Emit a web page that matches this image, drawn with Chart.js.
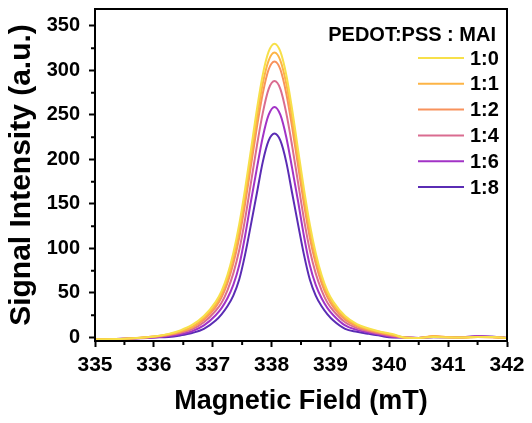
<!DOCTYPE html>
<html><head><meta charset="utf-8">
<script src="https://cdn.jsdelivr.net/npm/chart.js@4.4.0/dist/chart.umd.min.js"></script>
<style>html,body{margin:0;padding:0;background:#fff;}#wrap{width:532px;height:423px;}</style>
</head><body><div id="wrap"><canvas id="c" width="532" height="423"></canvas></div>
<script>
const fieldMT = [335.0, 335.5, 336.0, 336.25, 336.45, 336.65, 336.85, 337.05, 337.15, 337.25, 337.35, 337.45, 337.55, 337.65, 337.75, 337.85, 337.95, 338.05, 338.15, 338.25, 338.35, 338.45, 338.55, 338.65, 338.75, 338.85, 338.95, 339.05, 339.25, 339.45, 339.65, 339.85, 340.05, 340.25, 340.5, 340.75, 341.0, 341.25, 341.5, 341.75, 342.0];
const ratioLabels = ['1:0', '1:1', '1:2', '1:4', '1:6', '1:8'];
const sig_1_0 = [-2, -1.5, 1, 4, 8, 14, 24, 40, 52, 70, 95, 127, 167, 211, 256, 295, 321, 330, 321, 295, 256, 211, 167, 127, 95, 70, 52, 40, 24, 15, 10, 6.5, 4, 0, -0.5, 0.5, 0, 0, 0.5, 0.5, -0.5];
const sig_1_1 = [-2, -1.5, 1, 3.5, 7, 12, 22, 37, 49, 66, 90, 120, 159, 202, 246, 285, 311, 320, 311, 285, 246, 202, 159, 120, 90, 66, 49, 37, 22, 13.5, 9, 6, 3, 0, -0.5, 1.5, 0.3, 0, 0.5, 0.3, -0.5];
const sig_1_2 = [-2, -1.5, 1, 3, 6, 11, 20, 34, 45, 61, 83, 112, 150, 193, 236, 274, 301, 310, 301, 274, 236, 193, 150, 112, 83, 61, 45, 34, 20, 12.5, 8, 5, 2.5, 0, -0.5, 1.2, 0.3, 0, 0.5, 0.3, -0.5];
const sig_1_4 = [-2, -1.5, 0.5, 2.5, 5, 9, 17, 30, 39, 53, 72, 98, 133, 174, 215, 252, 279, 288, 279, 252, 215, 174, 133, 98, 72, 53, 39, 30, 17, 10.5, 7, 4, 1.5, 0, -0.5, 0.8, 0.2, 0, 0.8, 0.5, -0.5];
const sig_1_6 = [-2, -1.5, 0, 1.5, 3.5, 7, 13.5, 25, 33, 44, 59, 81, 114, 153, 190, 225, 250, 259, 250, 225, 190, 153, 114, 81, 59, 44, 33, 25, 13.5, 8.5, 5.5, 3, 0.5, 0, -0.5, 0.5, 0.2, 0.3, 1.5, 0.8, -0.5];
const sig_1_8 = [-2, -1.5, 0, 0.5, 2.3, 5, 9.6, 19, 26, 35, 47, 65, 93, 127, 162, 197, 221, 229, 221, 197, 162, 127, 93, 65, 47, 35, 26, 19, 9.6, 6.4, 4, 1.8, 0, 0, -0.5, 0.3, 0.2, 0.3, 1.2, 0.8, -0.5];
const xTickValues = [335, 336, 337, 338, 339, 340, 341, 342];
const yTickValues = [0, 50, 100, 150, 200, 250, 300, 350];
const xMinorTicks = [335.5, 336.5, 337.5, 338.5, 339.5, 340.5, 341.5];
const yMinorTicks = [25, 75, 125, 175, 225, 275, 325];
const legendTitle = 'PEDOT:PSS : MAI';

const seriesValues = [sig_1_0, sig_1_1, sig_1_2, sig_1_4, sig_1_6, sig_1_8];
const lineColors = ['#F7E04A', '#FDB446', '#F8925C', '#DA6C90', '#A233C6', '#5A2CB4'];
const FONT = "'Liberation Sans', Arial, sans-serif";

const datasets = seriesValues.map((vals, i) => ({
  label: ratioLabels[i],
  data: vals.map((v, j) => ({x: fieldMT[j], y: v})),
  borderColor: lineColors[i],
  backgroundColor: lineColors[i],
  borderWidth: 2,
  pointRadius: 0,
  cubicInterpolationMode: 'monotone',
  fill: false
}));

const framePlugin = {
  id: 'frameMinor',
  afterDraw(chart) {
    const {ctx, chartArea: a, scales: {x, y}} = chart;
    ctx.save();
    ctx.strokeStyle = '#000';
    ctx.lineWidth = 2;
    ctx.beginPath();
    xMinorTicks.forEach(v => { const p = x.getPixelForValue(v); ctx.moveTo(p, a.bottom); ctx.lineTo(p, a.bottom + 4); });
    yMinorTicks.forEach(v => { const p = y.getPixelForValue(v); ctx.moveTo(a.left, p); ctx.lineTo(a.left - 4, p); });
    ctx.stroke();
    ctx.strokeRect(a.left, a.top, a.right - a.left, a.bottom - a.top);
    // legend
    ctx.fillStyle = '#000';
    ctx.font = 'bold 20px ' + FONT;
    ctx.textAlign = 'right';
    ctx.textBaseline = 'middle';
    ctx.fillText(legendTitle, a.right - 11, a.top + 26);
    const rowY0 = a.top + 49, rowStep = 25.8;
    chart.data.datasets.forEach((ds, i) => {
      const yy = rowY0 + i * rowStep;
      ctx.strokeStyle = ds.borderColor;
      ctx.lineWidth = 2;
      ctx.beginPath();
      ctx.moveTo(a.right - 89, yy);
      ctx.lineTo(a.right - 43, yy);
      ctx.stroke();
      ctx.textAlign = 'left';
      ctx.fillText(ds.label, a.right - 37, yy + 1);
    });
    ctx.restore();
  }
};

new Chart(document.getElementById('c'), {
  type: 'line',
  data: {datasets},
  options: {
    responsive: false,
    animation: false,
    layout: {padding: {left: 0, right: 25, top: 9, bottom: 0}},
    plugins: {legend: {display: false}, tooltip: {enabled: false}},
    scales: {
      x: {
        type: 'linear', min: 335, max: 342,
        afterBuildTicks: s => { s.ticks = xTickValues.map(v => ({value: v})); },
        afterFit: s => { s.height = 82; s.paddingLeft = 0; s.paddingRight = 0; },
        ticks: {color: '#000', font: {family: FONT, size: 21, weight: 'bold'}, padding: 6, maxRotation: 0, autoSkip: false},
        grid: {drawOnChartArea: false, drawTicks: true, tickLength: 6, tickWidth: 2, tickColor: '#000'},
        border: {display: true, width: 2, color: '#000'},
        title: {display: true, text: 'Magnetic Field (mT)', color: '#000', font: {family: FONT, size: 27, weight: 'bold'}, padding: {top: 0, bottom: 5}}
      },
      y: {
        type: 'linear', min: -4, max: 369,
        afterBuildTicks: s => { s.ticks = yTickValues.map(v => ({value: v})); },
        afterFit: s => { s.width = 95; s.paddingTop = 0; s.paddingBottom = 0; },
        ticks: {color: '#000', font: {family: FONT, size: 20, weight: 'bold'}, padding: 9, autoSkip: false},
        grid: {drawOnChartArea: false, drawTicks: true, tickLength: 6, tickWidth: 2, tickColor: '#000'},
        border: {display: true, width: 2, color: '#000'},
        title: {display: true, text: 'Signal Intensity (a.u.)', color: '#000', font: {family: FONT, size: 30, weight: 'bold'}, padding: {top: 4, bottom: 0}}
      }
    }
  },
  plugins: [framePlugin]
});
</script>
</body></html>
